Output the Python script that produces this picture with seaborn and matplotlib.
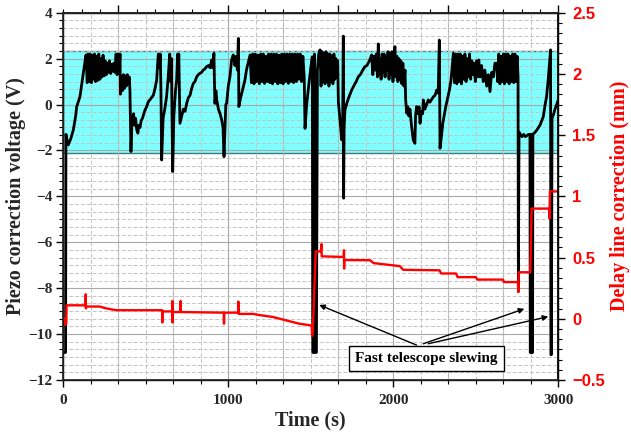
import numpy as np
import pandas as pd
import matplotlib
matplotlib.use("Agg")
import matplotlib.pyplot as plt
import seaborn as sns
from matplotlib.ticker import MultipleLocator, FixedLocator, NullFormatter

# ---------------- data ----------------
piezo_t = [0, 14, 16, 22, 30, 45, 61, 75, 81, 95, 101, 112, 121, 130, 138,
           145, 150, 158, 163, 170, 176, 183, 189, 196, 202, 209, 215, 222, 228, 235, 241,
           248, 254, 261, 267, 274, 280, 287, 293, 300, 306, 313, 320, 326, 332, 338, 344,
           346, 352, 358, 364, 370, 376, 382, 388, 394, 400, 404, 410,
           415, 420, 426, 432, 438, 445, 452, 458, 465, 472, 480, 488, 495, 505, 515, 530,
           546, 556, 566, 572, 576, 582, 588, 592, 596, 605, 615, 626, 636, 645, 650, 655,
           663, 670, 680, 687, 693, 697, 700, 707, 718, 728, 738, 748, 758, 768, 778, 788,
           798, 808, 818, 828, 838, 848, 858, 869, 880, 890, 899, 905, 913, 916, 919, 925,
           930, 940, 950, 960, 968, 974, 980, 985, 990, 1000, 1010, 1020, 1030, 1040, 1048,
           1055, 1061, 1064, 1075, 1085, 1101, 1110, 1120, 1132,
           1140, 1148, 1156, 1164, 1172, 1180, 1188, 1196, 1204, 1212, 1220, 1228, 1236,
           1244, 1252, 1260, 1268, 1276, 1284, 1292, 1300, 1308, 1316, 1324, 1332, 1340,
           1348, 1356, 1364, 1372, 1380, 1388, 1396, 1404, 1412, 1420, 1428, 1436, 1444,
           1452, 1460, 1465, 1475, 1490, 1500, 1509, 1512, 1518, 1522, 1526, 1534, 1540,
           1548, 1556, 1562, 1568, 1574, 1580, 1586, 1592, 1598, 1604, 1610, 1616, 1622,
           1628, 1634, 1640, 1646, 1652, 1658, 1663, 1667, 1675, 1687, 1693, 1697, 1699,
           1702, 1707, 1720, 1735, 1748, 1760, 1775, 1788, 1800, 1815, 1828, 1840, 1855,
           1869, 1876, 1883, 1890, 1897, 1904, 1909, 1914, 1920, 1926, 1932, 1938, 1944,
           1950, 1956, 1962, 1968, 1974, 1980, 1986, 1992, 1998, 2004, 2010, 2016, 2022,
           2028, 2034, 2040, 2046, 2052, 2058, 2064, 2071, 2075, 2081, 2088, 2094, 2101,
           2110, 2121, 2131, 2135, 2141, 2150, 2156, 2162, 2170, 2178, 2182, 2192, 2202,
           2212, 2222, 2243, 2253, 2263, 2272, 2279, 2283, 2290, 2300, 2318, 2340, 2350,
           2364, 2371, 2378, 2385, 2392, 2399, 2406, 2413, 2420, 2427, 2434, 2441, 2448,
           2455, 2462, 2469, 2476, 2483, 2490, 2497, 2504, 2511, 2518, 2526, 2535, 2545,
           2555, 2566, 2576, 2586, 2596, 2606, 2616, 2626, 2632, 2639, 2646, 2653, 2660,
           2667, 2674, 2681, 2688, 2695, 2702, 2709, 2716, 2723, 2730, 2737, 2744, 2751,
           2756, 2758, 2762, 2770, 2780, 2790, 2800, 2810, 2820, 2828, 2830, 2836, 2838,
           2840, 2844, 2846, 2860, 2870, 2889, 2900, 2909, 2920, 2929, 2940, 2950, 2953,
           2955, 2958, 2962, 2970, 2980, 2990, 3000]
piezo_v = [-10.8, -10.8, -1.3, -1.5, -1.76, -1.5, -1.1, -0.5, -0.1, 0.2, 0.34, 0.9, 1.36, 1.8, 2.16,
           0.95, 2.2, 1.0, 2.2, 0.95, 2.15, 1.1, 2.2, 1.0, 2.1, 1.05, 2.2, 1.1, 2.0, 1.2, 2.15,
           1.25, 1.9, 1.3, 1.8, 1.4, 1.9, 1.35, 1.75, 1.45, 1.8, 1.4, 2.2, 1.3, 2.2, 1.5, 2.2,
           0.45, 1.2, 0.6, 1.3, 0.7, 1.25, 0.8, 1.3, 0.9, 1.2, 0.6, -2.05,
           -1.0, -0.6, -0.4, -0.9, -0.6, -1.1, -1.25, -0.9, -1.0, -0.7, -0.6, -0.4, -0.24, -0.1, 0.12, 0.25,
           0.41, 0.7, 1.07, 1.8, 2.2, 1.6, 2.2, 0.5, -2.42, -0.6, -0.2, 0.34, 1.2, 2.2, 1.0, 2.0,
           -2.92, -0.5, 0.6, 1.07, 2.2, 1.5, 2.2, -0.82, -0.5, -0.2, -0.3, 0.05, 0.3, 0.4, 0.7, 0.92,
           1.0, 1.2, 1.3, 1.36, 1.4, 1.5, 1.55, 1.65, 1.7, 1.6, 1.94, 1.6, 2.23, 1.0, 0.05, 0.6,
           0.2, -0.2, -0.4, -0.67, -1.0, -2.27, -1.0, 0.0, 0.05, 0.8, 1.21, 1.94, 2.16, 1.7, 2.1,
           1.5, 2.88, -0.09, 0.3, 0.6, 1.07, 1.5, 1.8, 2.16,
           0.95, 2.2, 0.9, 2.2, 1.0, 2.15, 0.9, 2.2, 1.0, 2.2, 0.92, 2.1, 1.0,
           2.2, 0.95, 2.2, 0.9, 2.2, 1.0, 2.2, 0.9, 2.15, 0.95, 2.2, 0.9, 2.2,
           1.0, 2.2, 0.92, 2.2, 1.0, 2.2, 0.95, 2.2, 1.0, 2.2, 1.1, 2.2, 1.0,
           2.1, 1.2, -1.04, 0.0, 1.0, 1.6, 2.08, -10.8, -10.8, 2.2, -10.8, -10.8, 1.5,
           2.2, 2.38, 0.8, 2.3, 1.0, 2.2, 0.9, 2.3, 1.0, 2.2, 0.8, 2.2, 1.0,
           2.1, 0.9, 2.2, 1.1, 2.0, 1.2, 1.9, 0.12, -0.5, -1.54, -0.8, 2.98, -4.08,
           -1.0, -0.24, 0.1, 0.4, 0.63, 0.8, 1.0, 1.21, 1.3, 1.5, 1.65, 1.7, 1.9,
           2.16, 1.3, 2.1, 1.5, 2.2, 1.2, 2.64, 1.3, 2.0, 1.1, 2.2, 1.4, 2.2,
           1.2, 2.1, 1.5, 2.3, 1.1, 2.2, 1.3, 2.3, 1.0, 2.2, 2.52, 1.2, 2.1,
           1.0, 2.0, 1.1, 1.9, 0.9, 1.8, 0.8, 1.5, 0.2, -0.38, -0.1, -0.5, -0.2,
           -0.9, -1.55, -1.69, -0.5, -0.09, -0.4, -0.1, -0.82, -0.3, -0.4, 0.2, -0.2, 0.0,
           0.2, 0.1, 0.34, 0.4, 0.63, 0.5, 2.81, -1.91, -1.5, -0.82, -0.09, 0.63, 1.07,
           2.23, 0.95, 2.2, 0.9, 2.2, 1.0, 2.2, 0.9, 2.1, 1.1, 2.2, 1.0, 2.0,
           1.2, 2.2, 1.1, 1.9, 1.3, 1.8, 1.0, 1.9, 1.2, 1.94, 1.2, 1.7, 1.0,
           1.5, 0.8, 1.3, 0.56, 1.4, 1.2, 1.8, 1.8, 1.0, 2.2, 0.9, 2.1, 1.0,
           2.2, 0.9, 2.2, 1.0, 2.2, 0.9, 2.1, 1.0, 2.2, 0.95, 2.2, 1.0, 2.1,
           1.2, -8.15, -1.2, -1.3, -1.4, -1.3, -1.4, -1.35, -1.3, -1.3, -10.8, -10.8, -1.3,
           -10.8, -10.8, -1.3, -1.2, -1.11, -0.9, -0.7, -0.53, 0.0, 0.34, 1.2, 2.08, 2.38,
           -10.9, -10.9, -0.6, -0.45, -0.2, 0.0, 0.2]

delay_t = [0, 10, 12, 18, 20, 135, 136, 137, 138, 220, 260, 320, 599, 600, 601,
           660, 661, 662, 663, 710, 711, 712, 973, 974, 975, 1060, 1061, 1062,
           1150, 1190, 1270, 1350, 1430, 1505, 1508, 1512, 1530, 1560, 1565, 1566,
           1700, 1701, 1702, 1703, 1860, 1880, 2040, 2060, 2280, 2290, 2380, 2390,
           2500, 2510, 2665, 2670, 2755, 2758, 2760, 2830, 2838, 2945, 2947, 2949, 3000]
delay_mm = [0.0, 0.0, -0.05, -0.04, 0.11, 0.11, 0.20, 0.085, 0.10, 0.10, 0.085, 0.07, 0.07, -0.03, 0.06,
            0.06, 0.145, -0.03, 0.055, 0.055, 0.145, 0.055, 0.05, -0.04, 0.05, 0.05, 0.14, 0.04,
            0.04, 0.03, 0.015, -0.013, -0.04, -0.055, -0.14, -0.10, 0.55, 0.55, 0.61, 0.51,
            0.505, 0.56, 0.41, 0.48, 0.478, 0.455, 0.43, 0.40, 0.396, 0.37, 0.37, 0.34,
            0.34, 0.32, 0.32, 0.30, 0.30, 0.22, 0.38, 0.38, 0.90, 0.90, 0.82, 1.04, 1.04]

band_v = [-2.12, 2.35]
x_ticks = [0, 1000, 2000, 3000]
left_ticks = [-12, -10, -8, -6, -4, -2, 0, 2, 4]
right_ticks = [-0.5, 0, 0.5, 1, 1.5, 2, 2.5]
right_labels = ["\u22120.5", "0", "0.5", "1", "1.5", "2", "2.5"]
note_text = "Fast telescope slewing"
note_pos = (2201, -11.06)
arrow_tails = [(2141, -10.48), (2182, -10.42), (2212, -10.42)]
arrow_heads = [(1551, -8.73), (2794, -8.9), (2939, -9.24)]

piezo = pd.DataFrame({"t": piezo_t, "v": piezo_v})
delay = pd.DataFrame({"t": delay_t, "mm": delay_mm})

# ---------------- style ----------------
sns.set_theme(style="ticks")
plt.rcParams["font.family"] = ["Liberation Serif", "DejaVu Serif"]
plt.rcParams["font.weight"] = "bold"
plt.rcParams["axes.unicode_minus"] = True

fig = plt.figure(figsize=(6.31, 4.33), dpi=100)
ax1 = fig.add_axes([0.1003, 0.1224, 0.7845, 0.8483])
ax1.set_facecolor("white")

# band
ax1.axhspan(band_v[0], band_v[1], facecolor="#80ffff", edgecolor="#3e7b7b",
            lw=1.0, zorder=0.2)

ax1.set_xlim(0, 3000)
ax1.set_ylim(-12, 4)
ax1.xaxis.set_major_locator(FixedLocator(x_ticks))
ax1.xaxis.set_minor_locator(MultipleLocator(1000 / 6))
ax1.yaxis.set_major_locator(FixedLocator(left_ticks))
ax1.yaxis.set_minor_locator(MultipleLocator(1 / 3))
ax1.set_axisbelow(True)
ax1.grid(which="major", color="#a8a8a8", lw=0.8, ls="-")
ax1.grid(which="minor", color="#c4c4c4", lw=0.7, ls=(0, (4, 2)))
for k in [1, 2, 4, 5, 7, 8]:
    ax1.axvline(k * 1000 / 3, color="#b0b0b0", lw=0.8, zorder=0.5)

sns.lineplot(data=piezo, x="t", y="v", ax=ax1, color="black", lw=2.0,
             estimator=None, sort=False, zorder=3)

ax1.tick_params(axis="both", which="major", length=5, width=1, labelsize=11,
                color="black", pad=3)
ax1.tick_params(axis="both", which="minor", length=3, width=0.8, color="black")
ax1.tick_params(axis="x", which="major", pad=5)
ax1.set_xlabel("")
ax1.set_ylabel("")
for sp in ax1.spines.values():
    sp.set_color("black")
    sp.set_linewidth(1.0)

# right axis
ax2 = ax1.twinx()
ax2.set_ylim(-0.5, 2.5)
sns.lineplot(data=delay, x="t", y="mm", ax=ax2, color="#ff0000", lw=1.7,
             estimator=None, sort=False, zorder=2)
ax2.yaxis.set_major_locator(FixedLocator(right_ticks))
ax2.set_yticklabels(right_labels)
ax2.yaxis.set_minor_locator(MultipleLocator(1 / 12))
ax2.tick_params(axis="y", which="major", length=5, width=1, color="black",
                labelcolor="#ff0000", pad=5)
ax2.tick_params(axis="y", which="minor", length=3, width=0.8, color="black")
for lab in ax2.get_yticklabels():
    lab.set_fontfamily(["Liberation Sans", "DejaVu Sans"])
    lab.set_fontsize(12)
    lab.set_fontweight("bold")
ax2.set_ylabel("")
ax2.set_xlabel("")
ax2.spines["right"].set_color("black")

# top ticks
sec = ax1.secondary_xaxis("top")
sec.xaxis.set_major_locator(FixedLocator([1000 / 3, 1000, 5000 / 3, 7000 / 3, 3000]))
sec.xaxis.set_minor_locator(MultipleLocator(1000 / 9))
sec.xaxis.set_major_formatter(NullFormatter())
sec.tick_params(which="major", length=6, width=1, color="black")
sec.tick_params(which="minor", length=3, width=0.8, color="black")

# annotation
for (tx, ty), (hx, hy) in zip(arrow_tails, arrow_heads):
    ax1.annotate("", xy=(hx, hy), xytext=(tx, ty),
                 arrowprops=dict(arrowstyle="-|>", lw=1.0, color="black",
                                 mutation_scale=8, shrinkA=0, shrinkB=0),
                 zorder=5)
ax1.text(note_pos[0], note_pos[1], note_text, ha="center", va="center",
         fontsize=11, fontweight="bold", color="black", zorder=6,
         bbox=dict(boxstyle="square,pad=0.4", fc="white", ec="black", lw=1.0))

# labels
fig.text(0.5 * (0.1003 + 0.8848), 0.028, "Time (s)", ha="center", va="center",
         fontsize=14.5, fontweight="bold")
fig.text(0.026, 0.548, "Piezo correction voltage (V)", ha="center", va="center",
         rotation=90, fontsize=14.5, fontweight="bold")
fig.text(0.983, 0.548, "Delay line correction (mm)", ha="center", va="center",
         rotation=90, fontsize=14.5, fontweight="bold", color="#ff0000")

fig.savefig("out.png", dpi=100)
